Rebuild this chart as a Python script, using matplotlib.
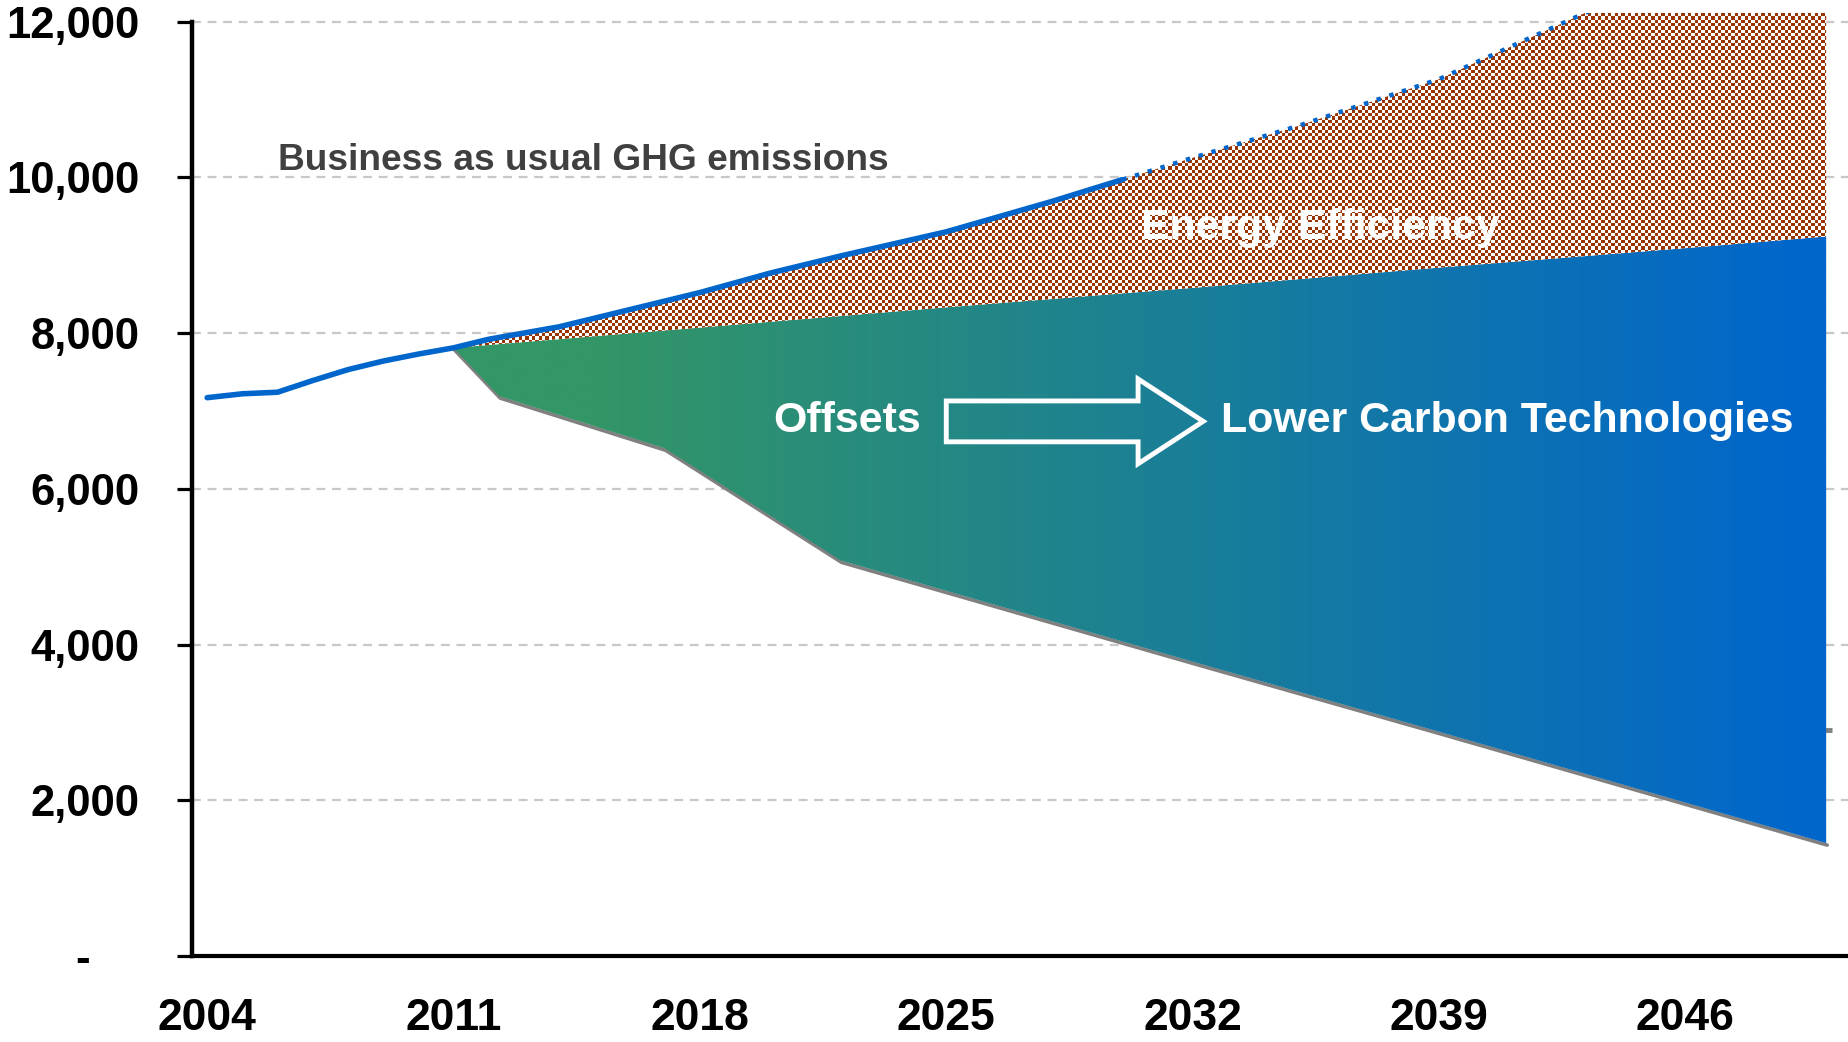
import numpy as np
import matplotlib
matplotlib.use("Agg")
import matplotlib.pyplot as plt
import matplotlib.transforms as mtransforms
from matplotlib.patches import Polygon
from matplotlib.ticker import FuncFormatter

# ---------------- data ----------------
bau_years = [2004, 2005, 2006, 2007, 2008, 2009, 2010, 2011, 2012, 2014, 2016, 2018,
             2020, 2022, 2025, 2028, 2030, 2032, 2035, 2039, 2043, 2046, 2050]
bau_values = [7170, 7220, 7240, 7390, 7530, 7640, 7730, 7810, 7920, 8080, 8300, 8520,
              8770, 8990, 9300, 9690, 9970, 10250, 10660, 11260, 12080, 12700, 13500]

eff_years = [2011, 2018, 2025, 2032, 2039, 2046, 2050]
eff_floor = [7810, 8070, 8330, 8580, 8840, 9090, 9240]

low_years = [2011, 2012.3, 2017, 2022, 2032, 2039, 2046, 2050]
low_values = [7810, 7190, 6520, 5080, 3780, 2880, 1970, 1450]

stray_year = [2050]
stray_value = [2900]

x_ticks = [2004, 2011, 2018, 2025, 2032, 2039, 2046]
y_ticks = [0, 2000, 4000, 6000, 8000, 10000, 12000]
solid_until = 2030

# ---------------- style ----------------
FONT = ["Liberation Sans", "DejaVu Sans"]
plt.rcParams["font.family"] = FONT
BLUE = "#0066CC"
GREEN = np.array([51, 150, 102]) / 255
DEEPBLUE = np.array([0, 102, 204]) / 255
BROWN = np.array([153, 51, 0]) / 255

fig = plt.figure(figsize=(18.48, 10.42), dpi=100)
ax = fig.add_axes([192 / 1848, 86 / 1042, 1 - 192 / 1848, (1042 - 86 - 13) / 1042])
XMIN, XMAX = 2003.57, 2050.62
YMIN, YMAX = 0, 12110

# grid
for v in y_ticks[1:]:
    ax.axhline(v, color="#c8c8c8", lw=1.6, ls=(0, (4, 3)), zorder=0)

# grey lower line (shadow, slightly offset down)
shadow = mtransforms.offset_copy(ax.transData, fig=fig, x=1.0, y=-2.0, units="dots")
ax.plot(low_years, low_values, color="#808080", lw=2.6, zorder=1,
        solid_capstyle="round", transform=shadow)
ax.plot(stray_year, stray_value, marker="_", ms=9, mew=3.5, color="#808080", zorder=1,
        clip_on=False)

# gradient region polygon
grad_poly = np.column_stack([
    np.concatenate([eff_years, low_years[::-1]]),
    np.concatenate([eff_floor, low_values[::-1]]),
])
gpatch = Polygon(grad_poly, closed=True, facecolor="none", edgecolor="none")
ax.add_patch(gpatch)
xs = np.linspace(XMIN, XMAX, 800)
t = np.clip((xs - 2015) / (2049.5 - 2015), 0, 1)[:, None]
cols = GREEN[None, :] * (1 - t) + DEEPBLUE[None, :] * t
grad_img = np.repeat(cols[None, :, :], 2, axis=0)
im = ax.imshow(grad_img, extent=[XMIN, XMAX, YMIN, YMAX], aspect="auto",
               interpolation="bilinear", zorder=2, origin="lower")
im.set_clip_path(gpatch)

# energy-efficiency checkerboard region
bx = np.array(bau_years, dtype=float)
bv = np.array(bau_values, dtype=float)
mask = bx >= 2011
hatch_poly = np.column_stack([
    np.concatenate([bx[mask], eff_years[::-1]]),
    np.concatenate([bv[mask], eff_floor[::-1]]),
])
hpatch = Polygon(hatch_poly, closed=True, facecolor="none", edgecolor="none")
ax.add_patch(hpatch)
nx, ny = int(1656 / 3.33), int(943 / 3.33)
ii, jj = np.meshgrid(np.arange(nx), np.arange(ny))
chk = ((ii + jj) % 2).astype(float)[:, :, None]
chk_img = BROWN[None, None, :] * chk + np.ones(3)[None, None, :] * (1 - chk)
im2 = ax.imshow(chk_img, extent=[XMIN, XMAX, YMIN, YMAX], aspect="auto",
                interpolation="nearest", zorder=3, origin="lower")
im2.set_clip_path(hpatch)

# BAU line: solid then dotted
sm = bx <= solid_until
ax.plot(bx[sm], bv[sm], color=BLUE, lw=4.0, zorder=4, solid_capstyle="round")
dm = bx >= solid_until
ax.plot(bx[dm], bv[dm], color=BLUE, lw=3.2, ls=(0, (1, 2.0)), zorder=4)

# arrow outline
arrow = np.array([
    [2025.0, 7128], [2030.45, 7128], [2030.45, 7410], [2032.3, 6866],
    [2030.45, 6321], [2030.45, 6603], [2025.0, 6603],
])
ax.add_patch(Polygon(arrow, closed=True, fill=False, edgecolor="white", lw=3.5,
                     joinstyle="miter", zorder=6))

# texts
ax.text(2006.02, 10215, "Business as usual GHG emissions", fontsize=26.7,
        fontweight="bold", color="#404040", ha="left", va="center", zorder=7)
ax.text(2030.53, 9350, "Energy Efficiency", fontsize=30.8, fontweight="bold",
        color="white", ha="left", va="center", zorder=7)
ax.text(2020.08, 6870, "Offsets", fontsize=31, fontweight="bold",
        color="white", ha="left", va="center", zorder=7)
ax.text(2032.8, 6870, "Lower Carbon Technologies", fontsize=30.9, fontweight="bold",
        color="white", ha="left", va="center", zorder=7)

# axes
ax.set_xlim(XMIN, XMAX)
ax.set_ylim(YMIN, YMAX)
ax.set_xticks(x_ticks)
ax.set_xticklabels([str(x) for x in x_ticks])
ax.set_yticks(y_ticks)
ax.yaxis.set_major_formatter(FuncFormatter(lambda v, p: "-    " if v == 0 else f"{int(v):,}"))
ax.tick_params(axis="x", length=0, pad=30, labelsize=32)
ax.tick_params(axis="y", length=11, width=2.3, pad=27, labelsize=31.4, direction="out")
for lab in ax.get_xticklabels() + ax.get_yticklabels():
    lab.set_fontweight("bold")
for s in ["top", "right"]:
    ax.spines[s].set_visible(False)
ax.spines["left"].set_linewidth(3.2)
ax.spines["left"].set_bounds(0, 12000)
ax.spines["bottom"].set_linewidth(3.0)
ax.set_facecolor("white")

fig.savefig("out.png", dpi=100)
